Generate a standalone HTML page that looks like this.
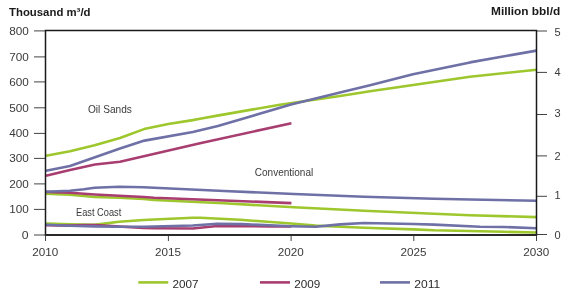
<!DOCTYPE html>
<html><head><meta charset="utf-8"><style>
html,body{margin:0;padding:0;background:#fff;width:580px;height:294px;overflow:hidden}
svg{display:block;will-change:transform}
text{font-family:"Liberation Sans",sans-serif}
.ax{font-size:11px;fill:#3a3a3a}
.lb{font-size:11px;fill:#3a3a3a}
.lg{font-size:11px;fill:#2a2a2a}
.tt{font-size:11px;font-weight:bold;fill:#1a1a1a}
</style></head><body>
<svg width="580" height="294" viewBox="0 0 580 294">
<line x1="34" y1="30.9" x2="45" y2="30.9" stroke="#444" stroke-width="1"/>
<text x="28.9" y="34.9" text-anchor="end" class="ax" textLength="19.6" lengthAdjust="spacingAndGlyphs">800</text>
<line x1="34" y1="56.9" x2="45" y2="56.9" stroke="#444" stroke-width="1"/>
<text x="28.9" y="60.9" text-anchor="end" class="ax" textLength="19.6" lengthAdjust="spacingAndGlyphs">700</text>
<line x1="34" y1="81.9" x2="45" y2="81.9" stroke="#444" stroke-width="1"/>
<text x="28.9" y="85.9" text-anchor="end" class="ax" textLength="19.6" lengthAdjust="spacingAndGlyphs">600</text>
<line x1="34" y1="107.8" x2="45" y2="107.8" stroke="#444" stroke-width="1"/>
<text x="28.9" y="111.8" text-anchor="end" class="ax" textLength="19.6" lengthAdjust="spacingAndGlyphs">500</text>
<line x1="34" y1="133.4" x2="45" y2="133.4" stroke="#444" stroke-width="1"/>
<text x="28.9" y="137.4" text-anchor="end" class="ax" textLength="19.6" lengthAdjust="spacingAndGlyphs">400</text>
<line x1="34" y1="158.4" x2="45" y2="158.4" stroke="#444" stroke-width="1"/>
<text x="28.9" y="162.4" text-anchor="end" class="ax" textLength="19.6" lengthAdjust="spacingAndGlyphs">300</text>
<line x1="34" y1="183.9" x2="45" y2="183.9" stroke="#444" stroke-width="1"/>
<text x="28.9" y="187.9" text-anchor="end" class="ax" textLength="19.6" lengthAdjust="spacingAndGlyphs">200</text>
<line x1="34" y1="209.4" x2="45" y2="209.4" stroke="#444" stroke-width="1"/>
<text x="28.9" y="213.4" text-anchor="end" class="ax" textLength="19.6" lengthAdjust="spacingAndGlyphs">100</text>
<line x1="34" y1="235" x2="45" y2="235" stroke="#444" stroke-width="1"/>
<text x="28.6" y="239" text-anchor="end" class="ax" textLength="6.8" lengthAdjust="spacingAndGlyphs">0</text>
<line x1="537" y1="31" x2="547" y2="31" stroke="#444" stroke-width="1"/>
<text x="554.5" y="35.5" class="ax">5</text>
<line x1="537" y1="72.4" x2="547" y2="72.4" stroke="#444" stroke-width="1"/>
<text x="554.5" y="75.8" class="ax">4</text>
<line x1="537" y1="114.5" x2="547" y2="114.5" stroke="#444" stroke-width="1"/>
<text x="554.5" y="117.2" class="ax">3</text>
<line x1="537" y1="155.9" x2="547" y2="155.9" stroke="#444" stroke-width="1"/>
<text x="554.5" y="159.5" class="ax">2</text>
<line x1="537" y1="196.3" x2="547" y2="196.3" stroke="#444" stroke-width="1"/>
<text x="554.5" y="199.1" class="ax">1</text>
<line x1="537" y1="234.5" x2="547" y2="234.5" stroke="#444" stroke-width="1"/>
<text x="554.5" y="238.7" class="ax">0</text>
<line x1="45.5" y1="235" x2="45.5" y2="241" stroke="#444" stroke-width="1"/>
<text x="45.2" y="255.9" text-anchor="middle" class="ax" textLength="26" lengthAdjust="spacingAndGlyphs">2010</text>
<line x1="168.4" y1="235" x2="168.4" y2="241" stroke="#444" stroke-width="1"/>
<text x="168.1" y="255.9" text-anchor="middle" class="ax" textLength="26" lengthAdjust="spacingAndGlyphs">2015</text>
<line x1="291.1" y1="235" x2="291.1" y2="241" stroke="#444" stroke-width="1"/>
<text x="290.8" y="255.9" text-anchor="middle" class="ax" textLength="26" lengthAdjust="spacingAndGlyphs">2020</text>
<line x1="413.8" y1="235" x2="413.8" y2="241" stroke="#444" stroke-width="1"/>
<text x="413.5" y="255.9" text-anchor="middle" class="ax" textLength="26" lengthAdjust="spacingAndGlyphs">2025</text>
<line x1="536.5" y1="235" x2="536.5" y2="241" stroke="#444" stroke-width="1"/>
<text x="536.2" y="255.9" text-anchor="middle" class="ax" textLength="26" lengthAdjust="spacingAndGlyphs">2030</text>
<polyline fill="none" stroke="#9dc72c" stroke-width="2.6" stroke-linejoin="round" points="46,155.8 70,151.3 94.6,145.3 120,138 144,129.1 168.25,124 192.8,120.1 200,118.8 217.35,115.6 280,104.8 340,96 370,91.3 470,76.8 536.5,69.7"/>
<polyline fill="none" stroke="#9dc72c" stroke-width="2.6" stroke-linejoin="round" points="46,193.6 70,194.7 94.6,197 119.15,197.8 143.7,199 154,200 224,203.3 294,207.2 364,210.7 434,213.8 470,215.2 536.5,217.1"/>
<polyline fill="none" stroke="#9dc72c" stroke-width="2.6" stroke-linejoin="round" points="46,223.5 70,224.3 94.6,224.9 119,221.8 143.7,220 154,219.5 192.8,217.7 200,217.8 240,219.8 291,223.5 315.55,225.6 340.1,226.8 364,227.8 413.75,229.4 434,230.3 480,231.2 504,231.8 536.5,232.5"/>
<polyline fill="none" stroke="#a83d70" stroke-width="2.6" stroke-linejoin="round" points="46,175.7 70,169.9 95,164.5 120,161.7 200,143.3 291.4,123.2"/>
<polyline fill="none" stroke="#a83d70" stroke-width="2.6" stroke-linejoin="round" points="46,191.9 70,192.8 94.6,194.5 119.15,195.7 143.7,197 154,197.7 224,200.5 291.4,203.1"/>
<polyline fill="none" stroke="#a83d70" stroke-width="2.6" stroke-linejoin="round" points="46,225.3 70,225.6 84,225 96,225.1 143.7,228 154,228.2 192.8,228.5 217.2,226 269,226.4 291.4,226.4"/>
<polyline fill="none" stroke="#6e70a6" stroke-width="2.6" stroke-linejoin="round" points="46,170.7 70,165.9 120,148.5 144.5,140.6 192.8,132 217.9,126 291,104.5 340,92.6 370,85.3 413,74.3 470,62.4 536.5,50.6"/>
<polyline fill="none" stroke="#6e70a6" stroke-width="2.6" stroke-linejoin="round" points="46,191.8 70,190.8 84,189.2 94.6,187.7 119.15,186.7 143.7,187.2 154,187.7 224,191 294,194 364,196.7 434,198.8 470,199.5 536.5,200.8"/>
<polyline fill="none" stroke="#6e70a6" stroke-width="2.6" stroke-linejoin="round" points="46,224.7 70,225.8 94.6,226.4 119,226.8 143.7,226.7 154,226.5 192.8,225.5 217.2,223.8 241.9,224.1 291,226.2 315.55,226.8 340.1,224.4 364,223 413.75,224 434,224.6 480,226.7 504,227 536.5,228.2"/>
<path d="M45.5,30.5 H536.5 V235 M45.5,29.8 V235" fill="none" stroke="#1a1a1a" stroke-width="1.5"/>
<line x1="44.8" y1="235" x2="537.2" y2="235" stroke="#2a2a2a" stroke-width="2"/>
<text x="88" y="113.3" class="lb" textLength="43.9" lengthAdjust="spacingAndGlyphs">Oil Sands</text>
<text x="254.8" y="176" class="lb" textLength="58.4" lengthAdjust="spacingAndGlyphs">Conventional</text>
<text x="76" y="216" class="lb" textLength="45.3" lengthAdjust="spacingAndGlyphs">East Coast</text>
<text x="9" y="16.1" class="tt" textLength="81.5" lengthAdjust="spacingAndGlyphs">Thousand m³/d</text>
<text x="491" y="15.2" class="tt" textLength="69.2" lengthAdjust="spacingAndGlyphs">Million bbl/d</text>
<line x1="138.3" y1="282.4" x2="168.3" y2="282.4" stroke="#9dc72c" stroke-width="2.6"/>
<text x="172.6" y="287.7" class="lg" textLength="26" lengthAdjust="spacingAndGlyphs">2007</text>
<line x1="260" y1="282.4" x2="290" y2="282.4" stroke="#a83d70" stroke-width="2.6"/>
<text x="294.3" y="287.7" class="lg" textLength="26" lengthAdjust="spacingAndGlyphs">2009</text>
<line x1="380" y1="282.4" x2="410" y2="282.4" stroke="#6e70a6" stroke-width="2.6"/>
<text x="414.3" y="287.7" class="lg" textLength="26" lengthAdjust="spacingAndGlyphs">2011</text>
</svg>
</body></html>
